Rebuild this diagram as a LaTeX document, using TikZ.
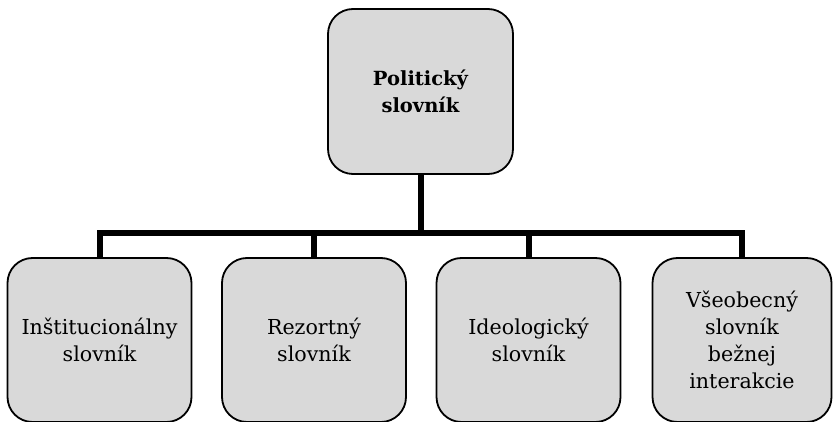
\documentclass[tikz,border=0pt]{standalone}
\usepackage{fontspec}
\setmainfont{DejaVu Serif}
\definecolor{boxgray}{HTML}{D9D9D9}
\begin{document}
\begin{tikzpicture}[x=1pt,y=-1pt,
  box/.style={draw=black, fill=boxgray, line width=1.8pt, rounded corners=25pt,
    minimum width=184pt, minimum height=164pt, inner sep=0pt, align=center,
    font=\fontsize{20.6}{27}\selectfont},
  topbox/.style={box, minimum width=185pt, minimum height=165pt, font=\fontsize{19.5}{27}\selectfont\bfseries},
  conn/.style={draw=black, line width=6pt}]
\useasboundingbox (0,0) rectangle (833,422);
\node[topbox] (top) at (420.5,91.5) {Politický\\slovník};
\node[box] (b1) at (99.5,340) {Inštitucionálny\\slovník};
\node[box] (b2) at (314,340) {Rezortný\\slovník};
\node[box] (b3) at (528.5,340) {Ideologický\\slovník};
\node[box, minimum width=179pt] (b4) at (742,340) {Všeobecný\\slovník\\bežnej\\interakcie};
\coordinate (hub) at (420.5,233.5);
\draw[conn] (top.south) -- (hub);
\draw[conn] (b1.north) -- (b1.north |- hub) -- (b4.north |- hub) -- (b4.north);
\draw[conn] (b2.north) -- (b2.north |- hub);
\draw[conn] (b3.north) -- (b3.north |- hub);
\end{tikzpicture}
\end{document}
